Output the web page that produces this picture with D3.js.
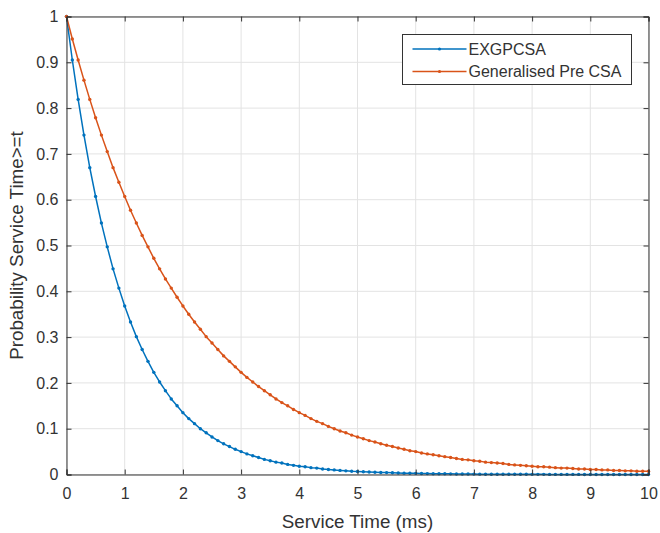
<!DOCTYPE html>
<html>
<head>
<meta charset="utf-8">
<script src="https://cdn.jsdelivr.net/npm/d3@7"></script>
<style>
  html, body { margin: 0; padding: 0; background: #fff; }
  svg { display: block; font-family: "Liberation Sans", Arial, sans-serif; }
</style>
</head>
<body>
<svg id="chart" width="660" height="533"></svg>
<script>
// Sample times (ms)
const serviceTime = [
  0.0,0.1,0.2,0.3,0.4,0.5,0.6,0.7,0.8,0.9,
  1.0,1.1,1.2,1.3,1.4,1.5,1.6,1.7,1.8,1.9,
  2.0,2.1,2.2,2.3,2.4,2.5,2.6,2.7,2.8,2.9,
  3.0,3.1,3.2,3.3,3.4,3.5,3.6,3.7,3.8,3.9,
  4.0,4.1,4.2,4.3,4.4,4.5,4.6,4.7,4.8,4.9,
  5.0,5.1,5.2,5.3,5.4,5.5,5.6,5.7,5.8,5.9,
  6.0,6.1,6.2,6.3,6.4,6.5,6.6,6.7,6.8,6.9,
  7.0,7.1,7.2,7.3,7.4,7.5,7.6,7.7,7.8,7.9,
  8.0,8.1,8.2,8.3,8.4,8.5,8.6,8.7,8.8,8.9,
  9.0,9.1,9.2,9.3,9.4,9.5,9.6,9.7,9.8,9.9,
  10.0
];

// P(service time >= t) for EXGPCSA
const exgpcsa = [
  1.000,0.905,0.819,0.741,0.670,0.607,0.549,0.497,0.449,0.407,
  0.368,0.333,0.301,0.273,0.247,0.223,0.202,0.183,0.165,0.150,
  0.135,0.122,0.111,0.100,0.091,0.082,0.074,0.067,0.061,0.055,
  0.050,0.045,0.041,0.037,0.033,0.030,0.027,0.025,0.022,0.020,
  0.018,0.017,0.015,0.014,0.012,0.011,0.010,0.009,0.008,0.007,
  0.0067,0.0061,0.0055,0.0050,0.0045,0.0041,0.0037,0.0033,0.0030,0.0027,
  0.0025,0.0022,0.0020,0.0018,0.0017,0.0015,0.0014,0.0012,0.0011,0.0010,
  0.0009,0.0008,0.0007,0.0007,0.0006,0.0006,0.0005,0.0005,0.0004,0.0004,
  0.0003,0.0003,0.0003,0.0002,0.0002,0.0002,0.0002,0.0002,0.0002,0.0001,
  0.0001,0.0001,0.0001,0.0001,0.0001,0.0001,0.0001,0.0001,0.0001,0.0001,
  0.0000
];

// P(service time >= t) for Generalised Pre CSA
const generalisedPreCsa = [
  1.000,0.951,0.905,0.861,0.819,0.779,0.741,0.705,0.670,0.638,
  0.607,0.577,0.549,0.522,0.497,0.472,0.449,0.427,0.407,0.387,
  0.368,0.350,0.333,0.317,0.301,0.287,0.273,0.259,0.247,0.235,
  0.223,0.212,0.202,0.192,0.183,0.174,0.165,0.157,0.150,0.142,
  0.135,0.129,0.122,0.116,0.111,0.105,0.100,0.095,0.091,0.086,
  0.082,0.078,0.074,0.071,0.067,0.064,0.061,0.058,0.055,0.052,
  0.050,0.047,0.045,0.043,0.041,0.039,0.037,0.035,0.033,0.032,
  0.030,0.029,0.027,0.026,0.025,0.024,0.022,0.021,0.020,0.019,
  0.018,0.017,0.017,0.016,0.015,0.014,0.014,0.013,0.012,0.012,
  0.011,0.011,0.010,0.010,0.009,0.009,0.008,0.008,0.007,0.007,
  0.007
];

const seriesNames = ["EXGPCSA", "Generalised Pre CSA"];
const seriesColors = ["#0072BD", "#D95319"];
const xTicks = [0,1,2,3,4,5,6,7,8,9,10];
const yTicks = [0,0.1,0.2,0.3,0.4,0.5,0.6,0.7,0.8,0.9,1];
const xLabel = "Service Time (ms)";
const yLabel = "Probability Service Time>=t";

const svg = d3.select("#chart");
const margin = { left: 66.5, right: 11.5, top: 16.5, bottom: 58.5 };
const W = 660, H = 533;
const x0 = margin.left, x1 = W - margin.right;
const y0 = H - margin.bottom, y1 = margin.top;

const x = d3.scaleLinear().domain([0, 10]).range([x0, x1]);
const y = d3.scaleLinear().domain([0, 1]).range([y0, y1]);

const axisColor = "#333333";
const gridColor = "#e3e3e3";
const fontSize = 16;
const labelSize = 18.8;

// grid
const grid = svg.append("g");
grid.selectAll("line.gx").data(xTicks).join("line")
  .attr("x1", d => x(d)).attr("x2", d => x(d))
  .attr("y1", y0).attr("y2", y1)
  .attr("stroke", gridColor).attr("stroke-width", 1);
grid.selectAll("line.gy").data(yTicks).join("line")
  .attr("x1", x0).attr("x2", x1)
  .attr("y1", d => y(d)).attr("y2", d => y(d))
  .attr("stroke", gridColor).attr("stroke-width", 1);

// series
const series = [exgpcsa, generalisedPreCsa];
const line = d3.line().x(d => x(d[0])).y(d => y(d[1]));
series.forEach((vals, i) => {
  const pts = serviceTime.map((t, j) => [t, vals[j]]);
  const g = svg.append("g");
  g.append("path").datum(pts)
    .attr("d", line)
    .attr("fill", "none")
    .attr("stroke", seriesColors[i])
    .attr("stroke-width", 1.5)
    .attr("stroke-linejoin", "round");
  g.selectAll("circle").data(pts).join("circle")
    .attr("cx", d => x(d[0])).attr("cy", d => y(d[1]))
    .attr("r", 1.7)
    .attr("fill", seriesColors[i]);
});

// axes with inward ticks, box
const tickLen = 5;
const xAxisB = d3.axisBottom(x).tickValues(xTicks).tickSize(-tickLen).tickPadding(13).tickFormat(d3.format("d"));
const xAxisT = d3.axisTop(x).tickValues(xTicks).tickSize(-tickLen).tickFormat("");
const yAxisL = d3.axisLeft(y).tickValues(yTicks).tickSize(-tickLen).tickPadding(8).tickFormat(d => d === 0 || d === 1 ? String(d) : d3.format(".1f")(d));
const yAxisR = d3.axisRight(y).tickValues(yTicks).tickSize(-tickLen).tickFormat("");

function style(g) {
  g.select(".domain").attr("stroke", axisColor).attr("stroke-width", 1);
  g.selectAll(".tick line").attr("stroke", axisColor).attr("stroke-width", 1);
  g.selectAll(".tick text").attr("fill", axisColor).style("font-size", fontSize + "px")
    .style("font-family", "'Liberation Sans', Arial, sans-serif");
}
svg.append("g").attr("transform", `translate(0,${y0})`).call(xAxisB).call(style);
svg.append("g").attr("transform", `translate(0,${y1})`).call(xAxisT).call(style);
svg.append("g").attr("transform", `translate(${x0},0)`).call(yAxisL).call(style);
svg.append("g").attr("transform", `translate(${x1},0)`).call(yAxisR).call(style);

// axis labels
svg.append("text")
  .attr("x", (x0 + x1) / 2).attr("y", 528)
  .attr("text-anchor", "middle")
  .attr("fill", axisColor)
  .style("font-size", labelSize + "px")
  .text(xLabel);
svg.append("text")
  .attr("transform", `translate(23,${(y0 + y1) / 2}) rotate(-90)`)
  .attr("text-anchor", "middle")
  .attr("fill", axisColor)
  .style("font-size", labelSize + "px")
  .text(yLabel);

// legend
const lg = svg.append("g");
const lx = 402.5, ly = 34.5, lw = 229, lh = 50;
lg.append("rect").attr("x", lx).attr("y", ly).attr("width", lw).attr("height", lh)
  .attr("fill", "#fff").attr("stroke", axisColor).attr("stroke-width", 1);
seriesNames.forEach((name, i) => {
  const yy = ly + 14.5 + i * 22.5;
  lg.append("line").attr("x1", lx + 10).attr("x2", lx + 64).attr("y1", yy).attr("y2", yy)
    .attr("stroke", seriesColors[i]).attr("stroke-width", 1.5);
  lg.append("circle").attr("cx", lx + 37).attr("cy", yy).attr("r", 1.6).attr("fill", seriesColors[i]);
  lg.append("text").attr("x", lx + 66).attr("y", yy).attr("dy", "0.35em")
    .attr("fill", axisColor).style("font-size", fontSize + "px").text(name);
});
</script>
</body>
</html>
